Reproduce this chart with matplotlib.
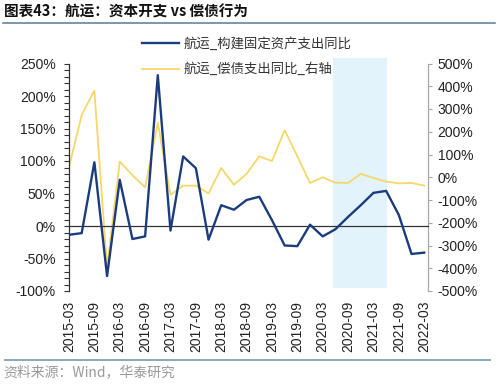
import matplotlib
matplotlib.use("Agg")
import matplotlib.pyplot as plt
from matplotlib.lines import Line2D
from matplotlib.patches import Rectangle
from matplotlib.ticker import MultipleLocator, FuncFormatter
import numpy as np

plt.rcParams['font.family'] = ['Liberation Sans', 'Noto Sans CJK SC', 'DejaVu Sans']
CJK = ['Noto Sans CJK SC', 'DejaVu Sans']

# ---------------- data ----------------
quarters = ['2015-03', '2015-06', '2015-09', '2015-12', '2016-03', '2016-06', '2016-09', '2016-12',
            '2017-03', '2017-06', '2017-09', '2017-12', '2018-03', '2018-06', '2018-09', '2018-12',
            '2019-03', '2019-06', '2019-09', '2019-12', '2020-03', '2020-06', '2020-09', '2020-12',
            '2021-03', '2021-06', '2021-09', '2021-12', '2022-03']
capex_yoy = [-13.5, -11, 98, -77, 71, -20, -16, 232, -7, 107, 89, -21, 32, 25, 40, 45,
             9, -30, -31, 2, -16, -5, 14, 32, 51, 54, 17, -43, -41]
debt_yoy = [44, 273, 381, -399, 69, 9, -44, 239, -77, -37, -37, -71, 41, -33, 15, 92,
            71, 207, 92, -25, 0, -24, -25, 15, -3, -19, -27, -25, -37]
label_capex = '航运_构建固定资产支出同比'
label_debt = '航运_偿债支出同比_右轴'
shade_from, shade_to = '2020-06', '2021-06'
title = '图表43：航运：资本开支 vs 偿债行为'
source = '资料来源：Wind，华泰研究'

BLUE = '#1B3D7E'
YELLOW = '#F6D86A'
SHADE = '#E2F3FC'

fig = plt.figure(figsize=(5.0, 3.84), dpi=100)
ax = fig.add_axes([69/500, 1-291/384, (428-69)/500, (291-63.5)/384])
ax2 = ax.twinx()

x = np.arange(len(quarters))

# shade (on back axis)
i0 = quarters.index(shade_from)
i1 = quarters.index(shade_to)
ax2.add_patch(Rectangle((i0 - 0.2, 0.012), (i1 - i0) + 0.25, 1.011,
                        transform=ax2.get_xaxis_transform(), facecolor=SHADE,
                        edgecolor='none', zorder=0, clip_on=False))

l2, = ax2.plot(x, debt_yoy, color=YELLOW, lw=1.3, zorder=2, label=label_debt)
l1, = ax.plot(x, capex_yoy, color=BLUE, lw=1.7, zorder=3, label=label_capex)

ax.set_zorder(ax2.get_zorder() + 1)
ax.patch.set_visible(False)

ax.set_xlim(0, 28.3)
ax.set_ylim(-100, 250)
ax2.set_ylim(-500, 500)

pct = FuncFormatter(lambda v, p: f'{v:.0f}%')
ax.yaxis.set_major_locator(MultipleLocator(50))
ax.yaxis.set_minor_locator(MultipleLocator(10))
ax.yaxis.set_major_formatter(pct)
ax2.yaxis.set_major_locator(MultipleLocator(100))
ax2.yaxis.set_major_formatter(pct)

for s in ['top', 'right']:
    ax.spines[s].set_visible(False)
for s in ['top', 'left', 'bottom']:
    ax2.spines[s].set_visible(False)
ax.spines['left'].set_color('#333333')
ax.spines['left'].set_linewidth(0.9)
ax2.spines['right'].set_color('#A8A8A8')
ax2.spines['right'].set_linewidth(0.9)

ax.spines['bottom'].set_position(('data', 0))
ax.spines['bottom'].set_color('#333333')
ax.spines['bottom'].set_linewidth(0.9)

ax.tick_params(axis='y', which='both', direction='out', length=3.5, width=0.8,
               color='#333333', labelsize=10, labelcolor='#222222', pad=6)
ax2.tick_params(axis='y', direction='out', length=3, width=0.8, color='#A8A8A8',
                labelsize=10, labelcolor='#222222', pad=4)

ax.set_xticks(x[::2])
ax.tick_params(axis='x', direction='out', length=3.5, width=0.8, color='#333333',
               labelbottom=False)
ax2.set_xticks([])

sec = ax.secondary_xaxis('bottom')
sec.set_xticks(x[::2])
sec.set_xticklabels(quarters[::2], rotation=90)
sec.tick_params(length=0, labelsize=10, labelcolor='#222222', pad=7)
sec.spines['bottom'].set_visible(False)

leg = fig.legend([l1, l2], [label_capex, label_debt], loc='upper left',
                 bbox_to_anchor=(142/500, 1-37/384), frameon=False, borderpad=0,
                 borderaxespad=0, handlelength=2.8, handletextpad=0.3,
                 labelspacing=0.85, prop={'family': CJK, 'size': 9.6})
for t in leg.get_texts():
    t.set_color('#333333')

fig.text(0.008, 1-11.5/384, title, family=CJK, fontsize=10.5, fontweight='bold',
         va='center', ha='left', color='#111111')
fig.add_artist(Line2D([0.006, 0.99], [1-22.5/384, 1-22.5/384], color='#5A7893', lw=1.1))
fig.add_artist(Line2D([0.01, 0.98], [1-360/384, 1-360/384], color='#8EA7BC', lw=1.4))
fig.text(0.006, 1-372/384, source, family=CJK, fontsize=10, va='center', ha='left',
         color='#9A9A9A')

fig.savefig('out.png', dpi=100)
